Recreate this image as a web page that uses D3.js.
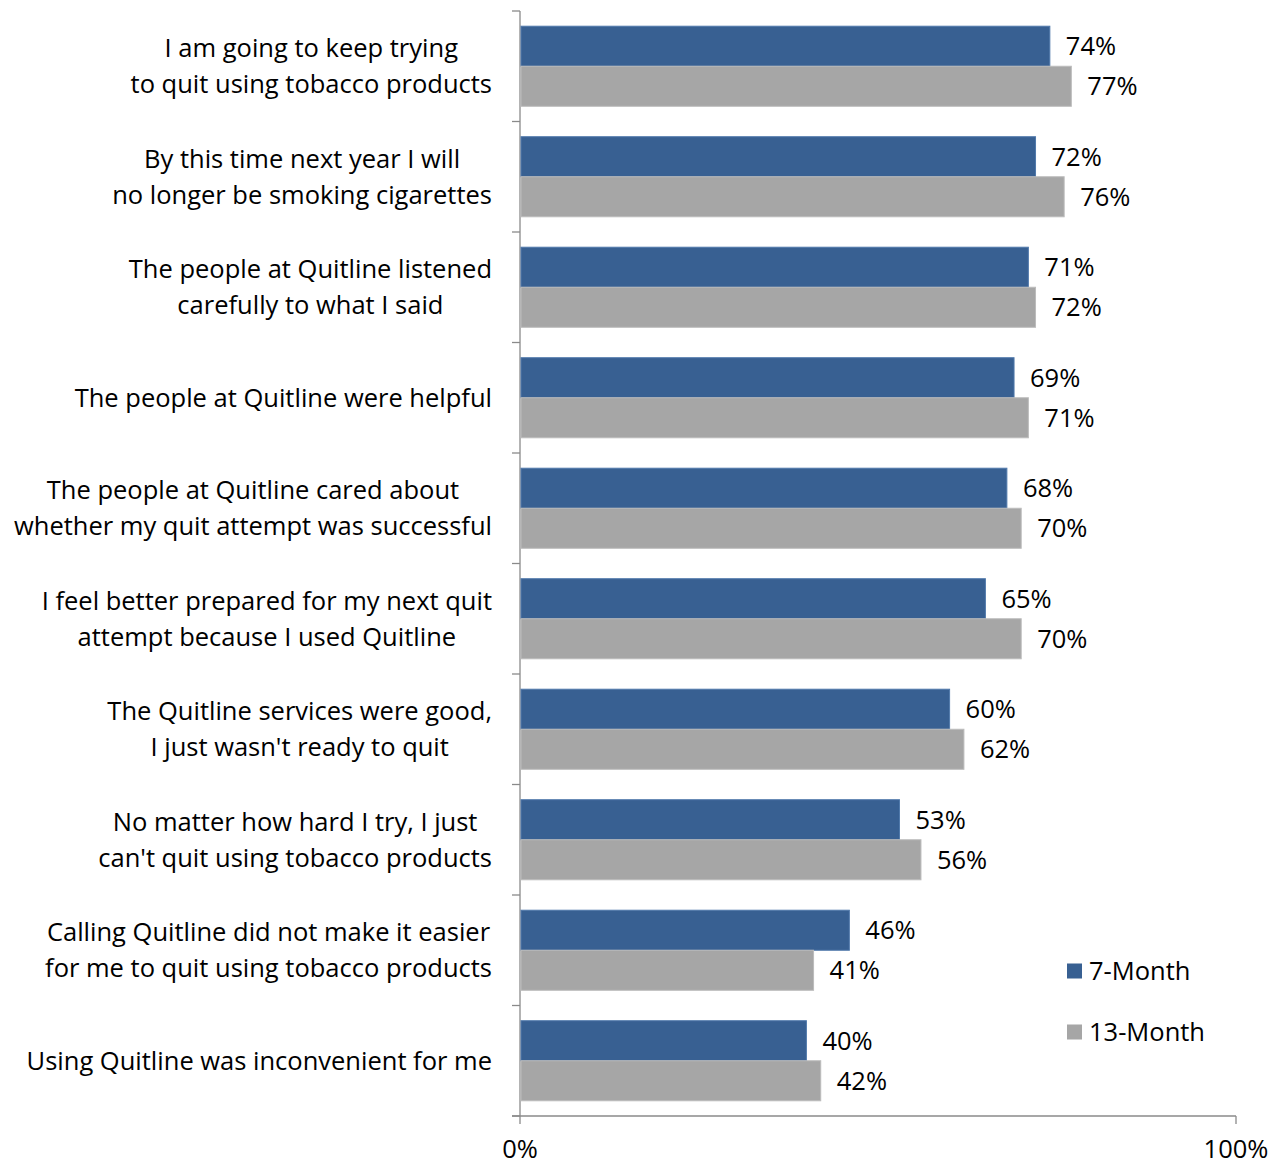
<!DOCTYPE html>
<html><head><meta charset="utf-8">
<script src="https://cdn.jsdelivr.net/npm/d3@7"></script>
<style>body{margin:0;background:#fff}svg{display:block}text{font-family:"Open Sans",Lato,sans-serif;fill:#000}</style>
</head><body>
<svg id="c" width="1280" height="1165"></svg>
<script>
const categories = [
  ["I am going to keep trying","to quit using tobacco products"],
  ["By this time next year I will","no longer be smoking cigarettes"],
  ["The people at Quitline listened","carefully to what I said"],
  ["The people at Quitline were helpful"],
  ["The people at Quitline cared about","whether my quit attempt was successful"],
  ["I feel better prepared for my next quit","attempt because I used Quitline"],
  ["The Quitline services were good,","I just wasn't ready to quit"],
  ["No matter how hard I try, I just","can't quit using tobacco products"],
  ["Calling Quitline did not make it easier","for me to quit using tobacco products"],
  ["Using Quitline was inconvenient for me"]
];
const seriesNames = ["7-Month","13-Month"];
const month7 = [74,72,71,69,68,65,60,53,46,40];
const month13 = [77,76,72,71,70,70,62,56,41,42];
const xTicks = [0,100];
const colors = ["#386092","#A6A6A6"];
const strokes = ["#5079ab","#bcbcbc"];

const svg = d3.select("#c");
const FS = 25.5;
const x = d3.scaleLinear().domain([0,100]).range([520,1236]);
const y = d3.scaleBand().domain(d3.range(categories.length)).range([11,1116]);
const sub = d3.scaleBand().domain([0,1]).range([0,y.bandwidth()]).paddingOuter(0.38).paddingInner(0);

// axes
const axisColor = "#8a8a8a";
svg.append("line").attr("x1",520).attr("x2",520).attr("y1",y.range()[0]).attr("y2",y.range()[1]).attr("stroke",axisColor).attr("stroke-width",1.3);
svg.selectAll(".yt").data(d3.range(categories.length+1)).join("line")
  .attr("x1",512).attr("x2",520)
  .attr("y1",i=>11+i*y.step()).attr("y2",i=>11+i*y.step())
  .attr("stroke",axisColor).attr("stroke-width",1.3);
svg.append("line").attr("x1",512).attr("x2",1236).attr("y1",1116).attr("y2",1116).attr("stroke",axisColor).attr("stroke-width",1.3);
svg.selectAll(".xt").data(xTicks).join("line")
  .attr("x1",d=>x(d)).attr("x2",d=>x(d)).attr("y1",1116).attr("y2",1124)
  .attr("stroke",axisColor).attr("stroke-width",1.3);
svg.selectAll(".xl").data(xTicks).join("text")
  .attr("x",d=>x(d)).attr("y",1158).attr("text-anchor","middle").attr("font-size",FS)
  .text(d=>d+"%");

// bars
const series = [month7, month13];
series.forEach((vals,si)=>{
  const g = svg.append("g");
  g.selectAll("rect").data(vals).join("rect")
    .attr("x",x(0)+1).attr("y",(d,i)=>y(i)+sub(si))
    .attr("width",d=>x(d)-x(0)-1).attr("height",sub.bandwidth())
    .attr("fill",colors[si]).attr("stroke",strokes[si]).attr("stroke-width",1);
  g.selectAll("text").data(vals).join("text")
    .attr("x",d=>x(d)+16).attr("y",(d,i)=>y(i)+sub(si)+sub.bandwidth()/2)
    .attr("dy","0.36em").attr("font-size",FS)
    .text(d=>d+"%");
});

// category labels
const lh = 36;
categories.forEach((lines,i)=>{
  const g = svg.append("g");
  const cy = y(i)+y.bandwidth()/2;
  const ts = lines.map((t,k)=>g.append("text").attr("font-size",FS).attr("text-anchor","middle")
    .attr("y",cy+(k-(lines.length-1)/2)*lh).attr("dy","0.36em").text(t));
  const maxW = d3.max(ts,t=>t.node().getComputedTextLength());
  ts.forEach(t=>t.attr("x",492-maxW/2));
});

// legend
const leg = svg.append("g");
const legY = [971,1032];
seriesNames.forEach((n,i)=>{
  leg.append("rect").attr("x",1067).attr("y",legY[i]-7.5).attr("width",15).attr("height",15).attr("fill",colors[i]);
  leg.append("text").attr("x",1089).attr("y",legY[i]).attr("dy","0.36em").attr("font-size",FS).text(n);
});
</script>
</body></html>
